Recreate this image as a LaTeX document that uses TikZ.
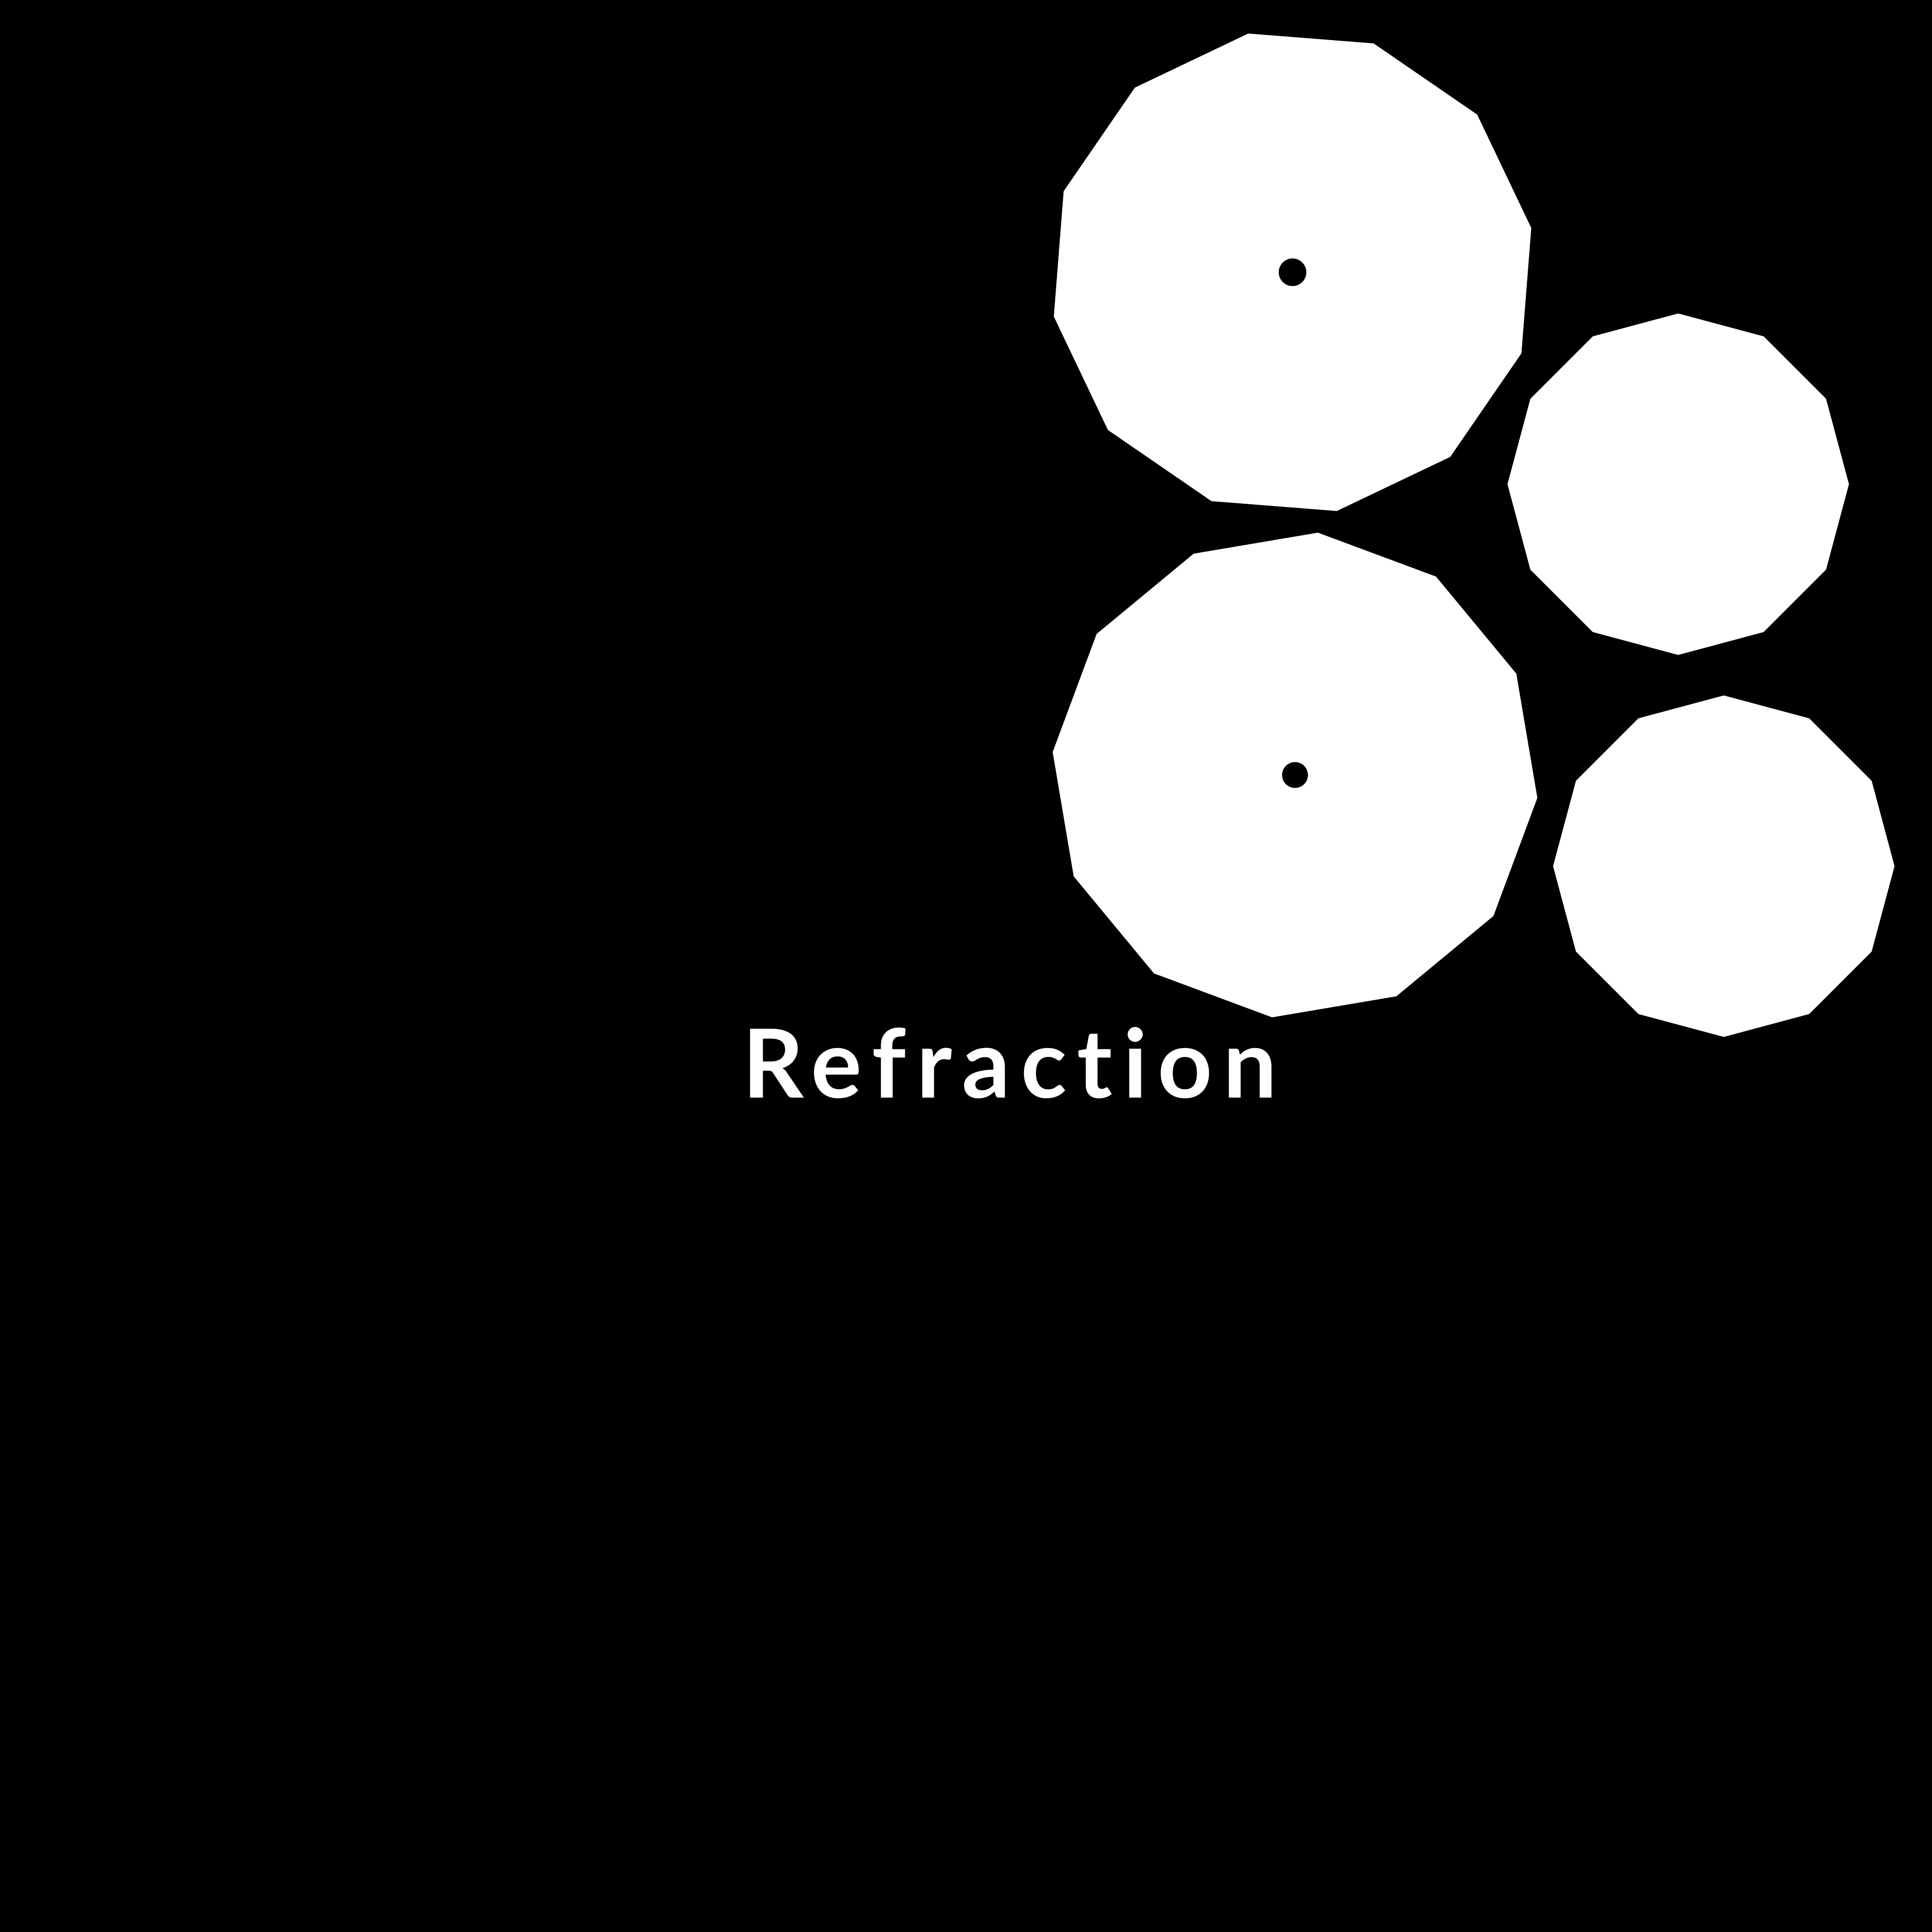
\documentclass[tikz,border=0pt]{standalone}
\usepackage{fontspec}
\setmainfont{Lato}[Ligatures=NoCommon]
\begin{document}
\begin{tikzpicture}
\tikzset{poly/.style={fill=white,draw=white,line width=0.3pt,line join=round}}
\fill[black] (0,0) rectangle (15.68,15.68);
\useasboundingbox (0,0) rectangle (15.68,15.68);
% top big dodecagon
\begin{scope}[shift={(10.49,13.47)}]
\fill[poly] (10.5:1.965) \foreach \k in {1,...,11} {-- (10.5+30*\k:1.965)} -- cycle;
\fill[black] (0,0) circle (0.112);
\end{scope}
% lower big dodecagon
\begin{scope}[shift={(10.51,9.39)}]
\fill[poly] (24.6:1.97) \foreach \k in {1,...,11} {-- (24.6+30*\k:1.97)} -- cycle;
\fill[black] (0,0) circle (0.105);
\end{scope}
% small upper right
\begin{scope}[shift={(13.62,11.75)}]
\fill[poly] (0:1.38) \foreach \k in {1,...,11} {-- (30*\k:1.38)} -- cycle;
\end{scope}
% small lower right
\begin{scope}[shift={(13.99,8.65)}]
\fill[poly] (0:1.38) \foreach \k in {1,...,11} {-- (30*\k:1.38)} -- cycle;
\end{scope}
\node[text=white,anchor=base,inner sep=0pt,font={\fontsize{22}{26}\selectfont\bfseries\addfontfeature{LetterSpace=11}}] (title) at (8.195,6.77) {Refraction};
\end{tikzpicture}
\end{document}
